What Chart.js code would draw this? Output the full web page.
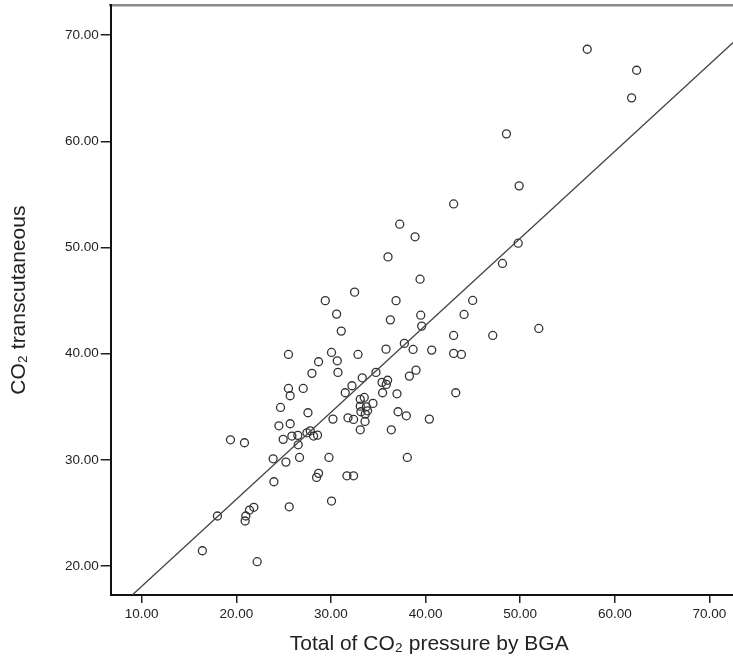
<!DOCTYPE html>
<html>
<head>
<meta charset="utf-8">
<script src="https://cdn.jsdelivr.net/npm/chart.js@4"></script>
<style>
  html, body { margin: 0; padding: 0; background: #fff; overflow: hidden; }
  #wrap { width: 733px; height: 663px; overflow: hidden; position: relative; }
  #wrap canvas { position: absolute; left: 0; top: 0; }
</style>
</head>
<body>
<div id="wrap"><canvas id="grafico" width="753" height="663"></canvas></div>
<script>
// valores (x = BGA, y = transcutâneo)
const bgaValues = [
  57.09, 62.31, 61.78, 48.55, 49.89, 42.97, 37.27, 38.89, 49.79, 36.03,
  48.13, 39.42, 44.98, 32.50, 29.40, 36.88, 39.49, 44.07, 30.60, 36.28,
  39.59, 31.09, 42.97, 47.10, 51.97, 37.76, 38.68, 40.65, 42.97, 43.79,
  30.06, 25.51, 32.86, 35.82, 30.67, 28.69, 30.74, 27.99, 34.76, 38.99,
  38.29, 33.31, 35.40, 35.99, 35.85, 32.22, 31.51, 25.51, 25.69, 27.07,
  35.46, 36.98, 43.19, 24.67, 27.57, 33.10, 33.52, 33.10, 33.74, 33.87,
  33.17, 33.63, 34.44, 31.80, 32.39, 33.60, 37.09, 37.97, 40.40, 30.21,
  33.10, 36.38, 24.50, 25.69, 24.95, 25.87, 26.50, 27.46, 27.81, 28.16,
  28.58, 26.54, 19.38, 20.86, 23.89, 25.24, 26.68, 29.79, 38.07, 23.97,
  28.48, 28.69, 31.69, 32.39, 30.06, 25.59, 18.00, 20.93, 21.00, 21.39,
  21.85, 16.41, 22.20
];
const tcValues = [
  68.68, 66.70, 64.10, 60.71, 55.81, 54.11, 52.20, 51.01, 50.41, 49.12,
  48.50, 47.02, 45.02, 45.80, 45.00, 45.00, 43.63, 43.70, 43.73, 43.19,
  42.60, 42.13, 41.72, 41.72, 42.38, 40.97, 40.40, 40.34, 40.03, 39.93,
  40.12, 39.93, 39.93, 40.43, 39.33, 39.24, 38.24, 38.15, 38.24, 38.45,
  37.89, 37.73, 37.30, 37.50, 37.11, 36.98, 36.32, 36.73, 36.04, 36.73,
  36.32, 36.22, 36.32, 34.94, 34.44, 35.70, 35.88, 35.06, 35.00, 34.62,
  34.53, 34.31, 35.32, 33.96, 33.81, 33.62, 34.53, 34.15, 33.84, 33.84,
  32.83, 32.83, 33.21, 33.40, 31.93, 32.24, 32.31, 32.55, 32.74, 32.24,
  32.33, 31.42, 31.89, 31.61, 30.10, 29.79, 30.23, 30.23, 30.23, 27.94,
  28.35, 28.73, 28.50, 28.50, 26.12, 25.58, 24.71, 24.24, 24.71, 25.27,
  25.53, 21.44, 20.41
];

const fitLineX = [9.0, 72.57];
const fitLineY = [17.27, 69.37];

const xTickValues = [10, 20, 30, 40, 50, 60, 70];
const yTickValues = [20, 30, 40, 50, 60, 70];

function criarGrafico() {
    const canvas = document.getElementById('grafico');
    const ctx = canvas.getContext('2d');

    const pontos = bgaValues.map((x, i) => ({ x: x, y: tcValues[i] }));
    const reta = fitLineX.map((x, i) => ({ x: x, y: fitLineY[i] }));

    const fonte = "'Liberation Sans', Arial, sans-serif";

    // tira o padding automático que o chart.js põe por causa dos labels
    const semPadding = s => { s.paddingTop = 0; s.paddingBottom = 0; s.paddingLeft = 0; s.paddingRight = 0; };

    new Chart(ctx, {
        type: 'scatter',
        data: {
            datasets: [
                {
                    label: 'Observações',
                    data: pontos,
                    xAxisID: 'x',
                    yAxisID: 'y',
                    pointStyle: 'circle',
                    pointRadius: 4,
                    pointBorderWidth: 1.3,
                    borderColor: '#333',
                    backgroundColor: 'rgba(0,0,0,0)',
                    order: 2
                },
                {
                    type: 'line',
                    label: 'Ajuste',
                    data: reta,
                    xAxisID: 'x',
                    yAxisID: 'y',
                    borderColor: '#444',
                    borderWidth: 1.3,
                    pointRadius: 0,
                    fill: false,
                    order: 1
                }
            ]
        },
        options: {
            responsive: false,
            animation: false,
            layout: { padding: 0 },
            plugins: {
                legend: { display: false },
                tooltip: { enabled: false }
            },
            scales: {
                x: {
                    type: 'linear',
                    position: 'bottom',
                    min: 6.72,
                    max: 74.05,
                    afterBuildTicks: s => { s.ticks = xTickValues.map(v => ({ value: v })); },
                    afterFit: s => { s.height = 68; semPadding(s); },
                    grid: {
                        drawOnChartArea: false,
                        drawTicks: true,
                        tickLength: 8,
                        color: '#222',
                        lineWidth: 1.5
                    },
                    border: { display: true, color: '#111', width: 2 },
                    ticks: {
                        padding: 3,
                        maxRotation: 0,
                        color: '#222',
                        font: { family: fonte, size: 13.5 },
                        callback: v => v.toFixed(2)
                    },
                    title: {
                        display: true,
                        text: 'Total of CO₂ pressure by BGA',
                        color: '#222',
                        font: { family: fonte, size: 21 },
                        padding: { top: 0, bottom: 6 }
                    }
                },
                x2: {
                    type: 'linear',
                    position: 'top',
                    min: 0,
                    max: 1,
                    afterFit: s => { s.height = 5; semPadding(s); },
                    grid: { drawOnChartArea: false, drawTicks: false },
                    border: { display: true, color: '#8a8a8a', width: 2.5 },
                    ticks: { display: false }
                },
                y: {
                    type: 'linear',
                    position: 'left',
                    min: 17.27,
                    max: 72.82,
                    afterBuildTicks: s => { s.ticks = yTickValues.map(v => ({ value: v })); },
                    afterFit: s => { s.width = 110.7; semPadding(s); },
                    grid: {
                        drawOnChartArea: false,
                        drawTicks: true,
                        tickLength: 10,
                        color: '#222',
                        lineWidth: 1.5
                    },
                    border: { display: true, color: '#111', width: 2 },
                    ticks: {
                        padding: 2,
                        color: '#222',
                        font: { family: fonte, size: 13.5 },
                        callback: v => v.toFixed(2)
                    },
                    title: {
                        display: true,
                        text: 'CO₂ transcutaneous',
                        color: '#222',
                        font: { family: fonte, size: 21 },
                        padding: { top: 7, bottom: 0 }
                    }
                }
            }
        }
    });
}

window.addEventListener('load', criarGrafico);
</script>
</body>
</html>
